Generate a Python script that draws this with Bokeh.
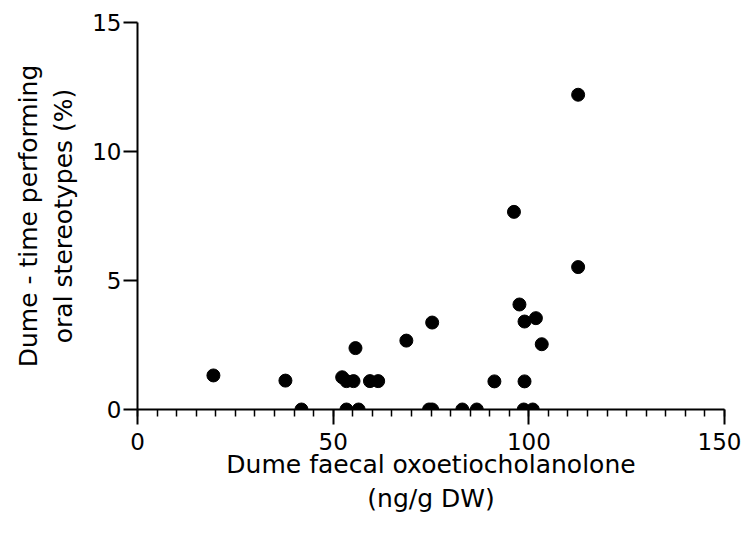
from bokeh.plotting import figure
from bokeh.models import Range1d, FixedTicker
from bokeh.embed import file_html
from bokeh.resources import INLINE

# Data
oxo = [19.4, 37.8, 41.9, 52.3, 53.4, 55.2, 59.4, 61.5, 55.7, 53.4, 56.5,
       68.7, 75.3, 74.5, 75.3, 83.0, 86.7, 91.2, 96.2, 97.6, 98.9, 101.8,
       103.3, 98.9, 98.7, 101.0, 112.6, 112.6]
stereo = [1.32, 1.12, 0.0, 1.25, 1.1, 1.1, 1.1, 1.1, 2.38, 0.0, 0.0,
          2.67, 3.37, 0.0, 0.0, 0.0, 0.0, 1.09, 7.66, 4.07, 3.41, 3.54,
          2.53, 1.09, 0.0, 0.0, 12.2, 5.52]
x_ticks = [0, 50, 100, 150]
y_ticks = [0, 5, 10, 15]
x_minor = list(range(0, 151, 5))

FONT = "DejaVu Sans"

p = figure(width=741, height=536, output_backend="svg", toolbar_location=None,
           x_range=Range1d(0, 150), y_range=Range1d(0, 15),
           min_border_left=137, min_border_right=17, min_border_top=22,
           min_border_bottom=127)
p.outline_line_color = None
p.grid.visible = False
p.background_fill_color = "white"
p.border_fill_color = "white"

p.scatter(oxo, stereo, size=13, color="black", marker="circle")

xa = p.xaxis[0]
xa.ticker = FixedTicker(ticks=x_ticks, minor_ticks=x_minor)
xa.axis_label = "Dume faecal oxoetiocholanolone\n(ng/g DW)"
xa.major_tick_out = 15
xa.major_tick_in = 0
xa.minor_tick_out = 7
xa.minor_tick_in = 0

ya = p.yaxis[0]
ya.ticker = FixedTicker(ticks=y_ticks, minor_ticks=[])
ya.axis_label = "Dume - time performing\noral stereotypes (%)"
ya.major_tick_out = 14
ya.major_tick_in = 0

for ax in (xa, ya):
    ax.axis_line_color = "black"
    ax.axis_line_width = 2
    ax.major_tick_line_color = "black"
    ax.major_tick_line_width = 2
    ax.minor_tick_line_color = "black"
    ax.minor_tick_line_width = 1.5
    ax.major_label_text_font = FONT
    ax.major_label_text_font_size = "23px"
    ax.major_label_text_color = "black"
    ax.axis_label_text_font = FONT
    ax.axis_label_text_font_size = "25px"
    ax.axis_label_text_font_style = "normal"
    ax.axis_label_text_color = "black"

xa.major_label_standoff = 8
xa.axis_label_standoff = -3
ya.major_label_standoff = 2
ya.axis_label_standoff = 11

open("out.html", "w").write(file_html(p, INLINE))
